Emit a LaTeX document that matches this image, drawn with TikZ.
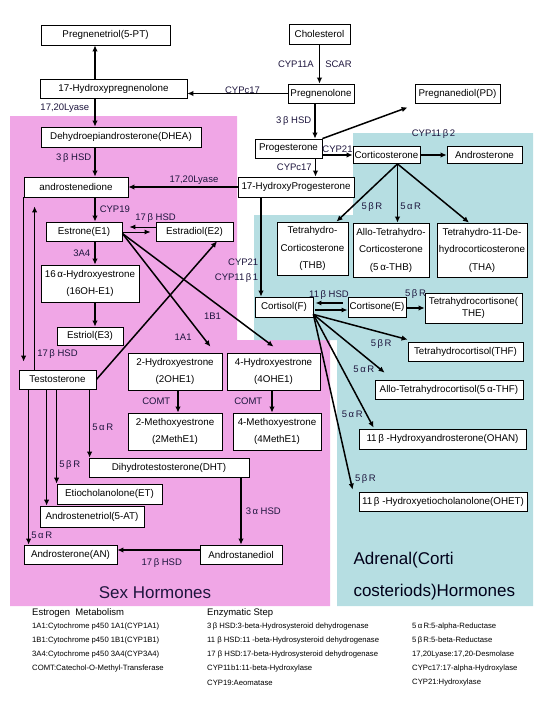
\documentclass[tikz,border=0pt]{standalone}
\usepackage{fontspec}
\setmainfont{Liberation Sans}
\usepackage{xcolor}
\usepackage{tikz}
\usetikzlibrary{arrows.meta, positioning, calc}

\definecolor{sexpink}{RGB}{240,166,230}
\definecolor{adrteal}{RGB}{182,222,226}
\definecolor{enzc}{RGB}{30,22,62}

\tikzset{
  box/.style 2 args={draw=black, line width=0.8pt, fill=white, minimum width=#1, minimum height=#2,
    inner sep=1pt, align=center, font=\fontsize{9.8}{17.5}\selectfont},
  enz/.style={font=\fontsize{9.5}{10}\selectfont, text=enzc, inner sep=1pt},
  flow/.style={line width=1.5pt, -{Latex[length=6pt,width=5.5pt]}},
  thinflow/.style={line width=1pt, -{Latex[length=6pt,width=5pt]}},
  legend/.style={font=\fontsize{7.7}{9}\selectfont, anchor=west, inner sep=0pt},
  legendhead/.style={font=\fontsize{9.5}{11}\selectfont, anchor=west, inner sep=0pt},
}

\begin{document}
\begin{tikzpicture}[x=1pt, y=-1pt]
  \useasboundingbox (0,0) rectangle (546,720);
  % the two hormone regions
  \fill[sexpink] (10,116) -- (237,116) -- (237,340) -- (330,340) -- (330,606) -- (10,606) -- cycle;
  \fill[adrteal] (353,133) -- (533,133) -- (533,606) -- (337,606) -- (337,340) -- (254,340)
    -- (254,215) -- (353,215) -- cycle;
  % column guides
  \coordinate (xa) at (95,0);
  \coordinate (xc) at (261,0);

  % Precursors
  \node[box={129pt}{20pt}] (pt5) at (105.5,35) {Pregnenetriol(5-PT)};
  \node[box={61pt}{20pt}] (chol) at (319.5,34) {Cholesterol};
  \node[box={147pt}{19pt}] (ohpreg) at (113.5,88.5) {17-Hydroxypregnenolone};
  \node[box={66pt}{19pt}] (preg) at (321,93.5) {Pregnenolone};
  \node[box={85pt}{19pt}] (pd) at (457.5,93.5) {Pregnanediol(PD)};
  \node[box={67pt}{19pt}] (prog) at (288.5,148.5) {Progesterone};
  \node[box={116pt}{20pt}] (ohprog) at (296,187) {17-HydroxyProgesterone};

  % Sex hormones
  \node[box={160pt}{20pt}] (dhea) at (121,137) {Dehydroepiandrosterone(DHEA)};
  \node[box={104pt}{20pt}] (andro) at (76,187) {androstenedione};
  \node[box={76pt}{19pt}] (e1) at (84,231.5) {Estrone(E1)};
  \node[box={77pt}{19pt}] (e2) at (194.5,231.5) {Estradiol(E2)};
  \node[box={98pt}{37pt}] (oh16) at (90,283.5) {16\,α-Hydroxyestrone\\(16OH-E1)};
  \node[box={66pt}{18pt}] (e3) at (90,336) {Estriol(E3)};
  \node[box={77pt}{19pt}] (testo) at (57.5,379.5) {Testosterone};
  \node[box={94pt}{37pt}] (oh2) at (175,371.5) {2-Hydroxyestrone\\(2OHE1)};
  \node[box={93pt}{37pt}] (oh4) at (273.5,371.5) {4-Hydroxyestrone\\(4OHE1)};
  \node[box={94pt}{37pt}] (me2) at (175,431.5) {2-Methoxyestrone\\(2MethE1)};
  \node[box={88pt}{37pt}] (me4) at (277,431.5) {4-Methoxyestrone\\(4MethE1)};
  \node[box={160pt}{19pt}] (dht) at (169,467.5) {Dihydrotestosterone(DHT)};
  \node[box={105pt}{20pt}] (et) at (109.5,494) {Etiocholanolone(ET)};
  \node[box={104pt}{21pt}] (at5) at (92,516.5) {Androstenetriol(5-AT)};
  \node[box={93pt}{19pt}] (an) at (70.5,554.5) {Androsterone(AN)};
  \node[box={82pt}{19pt}] (adiol) at (241,554.5) {Androstanediol};

  % Adrenal hormones
  \node[box={67pt}{17pt}] (cortico) at (386.5,155) {Corticosterone};
  \node[box={75pt}{17pt}] (androst) at (484.5,154.5) {Androsterone};
  \node[box={71pt}{53pt}] (thb) at (312.5,248.5) {Tetrahydro-\\Corticosterone\\(THB)};
  \node[box={76pt}{54pt}] (athb) at (391,250) {Allo-Tetrahydro-\\Corticosterone\\(5\,α-THB)};
  \node[box={90pt}{54pt}] (tha) at (482,250) {Tetrahydro-11-De-\\hydrocorticosterone\\(THA)};
  \node[box={58pt}{20pt}] (cortisol) at (284,307) {Cortisol(F)};
  \node[box={58pt}{20pt}] (cortisone) at (377,307) {Cortisone(E)};
  \node[box={97pt}{30pt}, font=\fontsize{9.8}{12}\selectfont] (the) at (473.5,308) {Tetrahydrocortisone(\\THE)};
  \node[box={115pt}{19pt}] (thf) at (465.5,351.5) {Tetrahydrocortisol(THF)};
  \node[box={148pt}{19pt}] (athf) at (449,389.5) {Allo-Tetrahydrocortisol(5\,α-THF)};
  \node[box={167pt}{20pt}] (ohan) at (442.5,439) {11\,β -Hydroxyandrosterone(OHAN)};
  \node[box={168pt}{19pt}] (ohet) at (443,501.5) {11\,β -Hydroxyetiocholanolone(OHET)};

  % Cholesterol side chain and pregnenolone
  \draw[flow] (chol.south) -- (chol.south |- preg.north)
    node[enz, midway, left=4pt] {CYP11A} node[enz, midway, right=4pt] {SCAR};
  \draw[flow] (preg.west) -- (preg.west -| ohpreg.east) node[enz, pos=0.45, yshift=3pt] {CYPc17};
  \draw[flow] (ohpreg.north -| xa) -- (pt5.south -| xa);
  \draw[flow] (ohpreg.south -| xa) -- (dhea.north -| xa) node[enz, pos=0.35, left=4pt] {17,20Lyase};
  \draw[flow] (dhea.south -| xa) -- (andro.north -| xa) node[enz, pos=0.35, left=2pt] {3\,β HSD};
  \draw[flow] ([xshift=-6pt]preg.south) -- ([xshift=-6pt]preg.south |- prog.north)
    node[enz, midway, left=2pt] {3\,β HSD};
  \draw[flow] (prog.north east) -- ([xshift=-7pt,yshift=-4pt]pd.south west);
  \draw[flow] (prog.east |- cortico.west) -- (cortico.west) node[enz, midway, above=1pt] {CYP21};
  \draw[flow] (cortico.east) -- (androst.west |- cortico.east) node[enz, midway, yshift=21pt] {CYP11\,β\,2};
  \draw[flow] ([xshift=27pt]prog.south) -- ([xshift=27pt]prog.south |- ohprog.north)
    node[enz, midway, left=2pt] {CYPc17};
  \draw[flow] (ohprog.west) -- (andro.east) node[enz, pos=0.4, above=1pt] {17,20Lyase};
  \draw[flow] (ohprog.south -| xc) -- (cortisol.north -| xc)
    node[enz, pos=0.65, left=1pt] {CYP21} node[enz, pos=0.81, left=1pt] {CYP11\,β\,1};

  % Corticosterone metabolites
  \coordinate (cfan) at ([xshift=11pt]cortico.south);
  \draw[flow] (cfan) -- ([xshift=24pt]thb.north) node[enz, pos=0.75, right=8pt] {5\,β\,R};
  \draw[flow] (cfan) -- (cfan |- athb.north) node[enz, pos=0.73, right=1pt] {5\,α\,R};
  \draw[flow] (cfan) -- ([xshift=-13pt]tha.north);

  % Estrogen metabolism
  \draw[flow] (andro.south -| xa) -- (e1.north -| xa) node[enz, midway, right=3pt] {CYP19};
  \draw[thinflow] ([yshift=4.5pt]e2.west) -- ([yshift=4.5pt,xshift=7pt]e1.east)
    node[enz, pos=0, yshift=9pt] {17\,β HSD};
  \draw[thinflow] ([yshift=-0.5pt]e1.east) -- ([yshift=-0.5pt,xshift=-5pt]e2.west);
  \draw[flow] (e1.south -| xa) -- (oh16.north -| xa) node[enz, midway, left=3pt] {3A4};
  \draw[flow] (oh16.south -| xa) -- (e3.north -| xa);
  \draw[flow] ([yshift=-2pt]e1.east) -- ([xshift=-12pt,yshift=6pt]oh2.north east)
    node[enz, pos=0.92, left=10pt] {1A1};
  \draw[flow] ([yshift=-2pt]e1.east) -- ([yshift=6pt]oh4.north) node[enz, pos=0.73, left=10pt] {1B1};
  \draw[flow] ([xshift=3pt]oh2.south) -- ([xshift=3pt]oh2.south |- me2.north) node[enz, midway, left=6pt] {COMT};
  \draw[flow] ([xshift=-1.5pt]oh4.south) -- ([xshift=-1.5pt]oh4.south |- me4.north)
    node[enz, midway, left=8pt] {COMT};

  % Testosterone
  \draw[flow, shorten >=8pt] (andro.south west) -- (andro.south west |- testo.north);
  \draw[flow, shorten >=9pt] ([xshift=16pt]testo.north west) -- ([xshift=16pt]testo.north west |- andro.south)
    node[enz, pos=0.09, right=1pt] {17\,β HSD};
  \draw[flow] (testo.east) -- ([xshift=22.5pt]e2.south);
  \draw[flow] ([xshift=71pt]testo.south west) -- ([xshift=71pt]testo.south west |- dht.north)
    node[enz, pos=0.55, right=1pt] {5\,α\,R};
  \draw[flow] ([xshift=38pt]testo.south west) -- ([xshift=38pt]testo.south west |- et.north)
    node[enz, pos=0.8, right=1pt] {5\,β\,R};
  \draw[flow] ([xshift=28pt]testo.south west) -- ([xshift=28pt]testo.south west |- at5.north);
  \draw[flow] ([xshift=10pt]testo.south west) -- ([xshift=10pt]testo.south west |- an.north)
    node[enz, pos=0.94, right=1pt] {5\,α\,R};
  \draw[flow] (dht.south -| adiol.north) -- (adiol.north) node[enz, midway, right=3pt] {3\,α HSD};
  \draw[flow] ([yshift=4.5pt]adiol.west) -- ([yshift=4.5pt]adiol.west -| an.east)
    node[enz, pos=0.46, below=7pt] {17\,β HSD};

  % Cortisol
  \draw[thinflow, line width=1.3pt] ([yshift=4pt,xshift=-5pt]cortisone.west) -- ([yshift=4pt,xshift=2pt]cortisol.east)
    node[enz, midway, yshift=8pt] {11\,β HSD};
  \draw[thinflow, line width=1.3pt] ([yshift=-3pt,xshift=2pt]cortisol.east) -- ([yshift=-3pt]cortisone.west);
  \draw[flow] ([yshift=-1pt]cortisone.east) -- ([yshift=-1pt]cortisone.east -| the.west)
    node[enz, midway, yshift=14pt] {5\,β\,R};
  \coordinate (cfork) at ([yshift=3pt]cortisol.south east);
  \draw[flow] (cfork) -- ([yshift=2pt]thf.north west) node[enz, pos=0.72, below=5pt] {5\,β\,R};
  \draw[flow] (cfork) -- ([xshift=10pt,yshift=7pt]athf.north west) node[enz, pos=0.95, left=5pt] {5\,α\,R};
  \draw[flow] (cfork) -- ([xshift=15pt,yshift=1pt]ohan.north west) node[enz, pos=0.88, left=2pt] {5\,α\,R};
  \draw[flow] (cfork) -- ([xshift=-6pt,yshift=2pt]ohet.north west) node[enz, pos=0.94, right=3pt] {5\,β\,R};

  % region titles
  \node[font=\fontsize{17}{20}\selectfont, text=enzc] (sextitle) at (155,593) {Sex Hormones};
  \node[font=\fontsize{17}{32}\selectfont, text=black!90!blue, align=left, anchor=west] (adrtitle) at (350,576)
    {Adrenal(Corti\\costeriods)Hormones};

  % legend
  \node[legendhead] (lghA) at (32,613) {Estrogen\ \ Metabolism};
  \node[legendhead] (lghB) at (207,613) {Enzymatic Step};
  \foreach \t [count=\i] in {1A1:Cytochrome p450 1A1(CYP1A1), 1B1:Cytochrome p450 1B1(CYP1B1),
      3A4:Cytochrome p450 3A4(CYP3A4), COMT:Catechol-O-Methyl-Transferase}
    \node[legend] (lga\i) at (32,613+14*\i) {\t};
  \foreach \t [count=\i] in {3\,β HSD:3-beta-Hydrosysteroid dehydrogenase,
      11 β HSD:11 -beta-Hydrosysteroid dehydrogenase, 17 β HSD:17-beta-Hydrosysteroid dehydrogenase,
      CYP11b1:11-beta-Hydroxylase, CYP19:Aeomatase}
    \node[legend] (lgb\i) at (207,613+14*\i) {\t};
  \foreach \t [count=\i] in {5\,α\,R:5-alpha-Reductase, 5\,β\,R:5-beta-Reductase,
      {17,20Lyase:17,20-Desmolase}, CYPc17:17-alpha-Hydroxylase, CYP21:Hydroxylase}
    \node[legend] (lgc\i) at (412,613+14*\i) {\t};
\end{tikzpicture}
\end{document}
